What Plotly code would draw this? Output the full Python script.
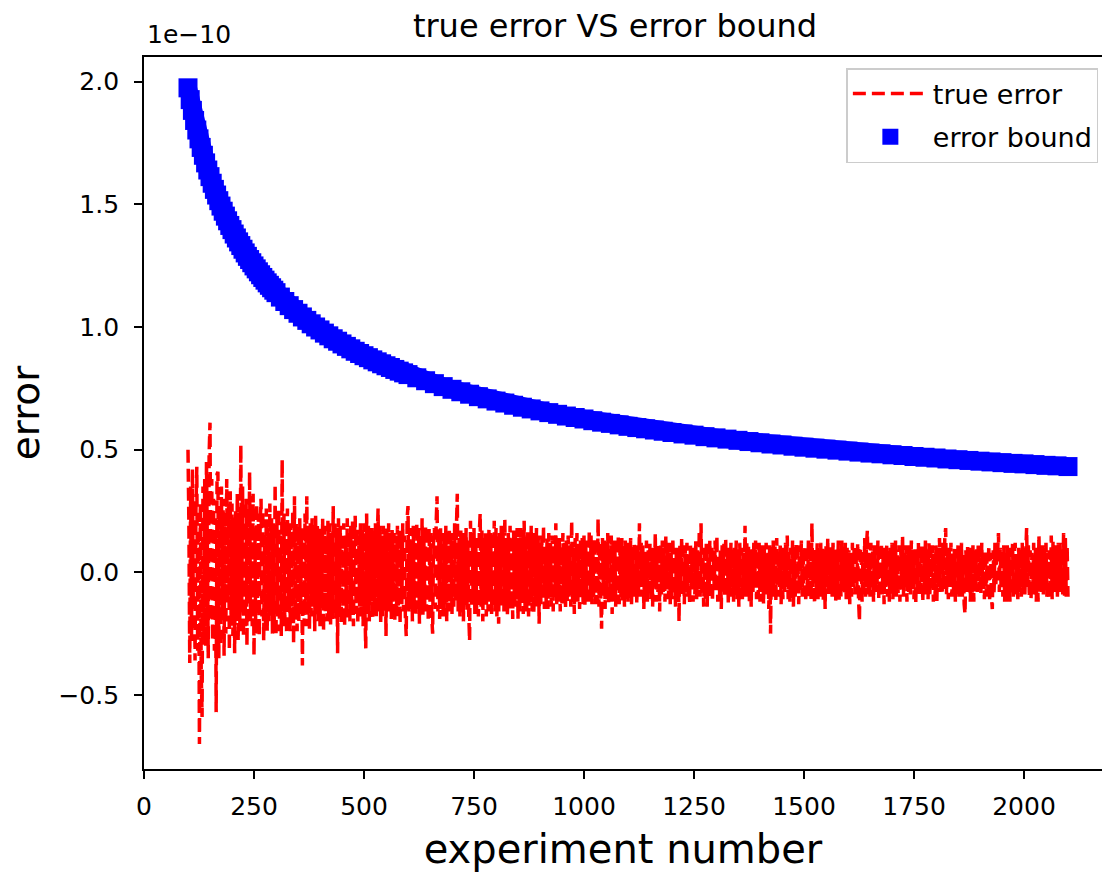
import plotly.graph_objects as go

# ---------------- data ----------------
# true error, read off the picture, in units of 1e-12 (one value every 2 experiments)
err_100_298 = [
    50, 20, -37, 35, -28, 42, -15, 30, -36, 25,
    43, -32, 15, -70, 28, -40, -59, 35, -25, 38,
    -30, 45, 10, -35, 48, 61, -20, 38, -28, 30,
    -32, 22, -57, 40, 41, -35, 25, -30, 35, -18,
    30, -34, 20, -25, 38, -12, 28, -32, 33, -20,
    28, -26, 18, -33, 25, -18, 32, -28, 22, -24,
    52, -15, 35, -26, 20, -22, 30, -30, 26, -12,
    41, -20, 28, -22, 32, -34, 18, -25, 28, -15,
    24, -26, 20, 30, -18, 25, -28, 15, -22, 26,
    -24, 18, -20, 28, -15, 22, -25, 20, -20, 36,
]
err_300_498 = [
    -26, 22, -18, 26, -24, 15, -26, 46, -20, 24,
    -22, 18, -25, 26, -14, 20, -24, 20, -18, 25,
    -29, 31, -18, 20, -24, 14, -20, 22, -15, 18,
    -38, 16, -22, 24, -16, 31, -22, 18, -24, 20,
    -18, 22, -14, 19, -24, 23, -16, 20, -20, 16,
    -22, 18, -12, 22, -24, 19, -16, 14, -20, 21,
    -18, 20, -22, 15, -19, 27, -14, 21, -19, 17,
    -33, 22, -16, 19, -21, 14, -18, 20, -22, 15,
    -19, 22, -14, 17, -20, 19, -15, 21, -22, 14,
    23, -17, 18, -21, 15, -14, 20, -18, 17, -22,
]
err_500_698 = [
    20, -15, -31, 24, -17, 19, -20, 15, -12, 18,
    -19, 17, -15, 20, -18, 13, 26, -16, 19, -21,
    15, -18, 19, -13, 17, -26, 18, -15, 20, -16,
    13, -19, 18, -12, 16, -20, 15, -18, 19, -14,
    18, -21, 16, -13, 20, -16, 15, -18, -26, 22,
    27, -16, 18, -15, 13, -20, 19, -12, 17, -18,
    20, -15, 18, -21, 13, -16, 22, -18, 15, -13,
    19, -16, 15, -20, 18, -12, 16, -18, -25, 15,
    18, -15, 20, 31, -16, 13, -19, 18, -15, 16,
    -18, 15, -13, 19, -20, 16, -12, 18, -16, 14,
]
err_700_898 = [
    -17, 16, -14, 20, -12, 18, 32, -16, 14, -18,
    17, -12, 16, -20, 14, -11, 18, -16, 13, -17,
    -28, 21, -14, 16, -12, 18, -17, 14, -16, 13,
    -18, 16, 24, -14, 17, -20, 12, -11, 16, -18,
    14, -16, 18, -12, 16, -17, 13, -14, 21, -16,
    18, -18, 12, -21, 16, -11, 19, -14, 17, -16,
    22, -12, 14, -18, 16, -14, 19, -16, 12, -19,
    17, -14, 16, -11, 18, -19, 14, -16, 18, -12,
    16, -17, 21, -14, 12, -16, 17, -18, 14, -11,
    19, -16, 13, -17, 16, -12, 18, -14, 15, -21,
]
err_900_1098 = [
    12, -13, 15, -9, 19, -15, 10, -12, 14, -15,
    16, -8, 12, -14, 15, -16, 11, -10, 20, -13,
    13, -12, 14, -16, 10, -13, 16, -9, 12, -15,
    13, -12, 15, -10, 11, -14, 21, -12, 10, -17,
    14, -8, 16, -12, 11, -15, 13, -10, 14, -13,
    15, -14, 11, -12, 13, -10, 17, -12, 15, -13,
    12, -10, 14, -13, 11, -12, 22, -14, 12, -9,
    -23, 14, -8, 13, -15, 12, -11, 16, -13, 10,
    -12, 15, -17, 12, -9, 13, -14, 11, -12, 15,
    -13, 12, -10, 14, -12, 9, -14, 13, -11, 12,
]
err_1100_1298 = [
    -12, 10, -9, 14, -13, 8, -10, 12, -7, 11,
    -13, 9, -8, 20, -10, 12, -6, 11, -15, 8,
    -10, 13, -12, 9, -7, 12, -11, 8, -14, 10,
    -5, 16, -12, 9, -8, 11, -16, 12, -9, 13,
    -8, 10, -12, 15, -7, 9, -11, 12, -13, 8,
    -11, 14, -9, 7, -14, 10, -12, 8, -20, 12,
    -6, 14, -10, 9, -13, 11, -8, 12, -10, 7,
    -13, 11, -7, 10, -12, 8, -9, 13, -11, 9,
    -7, 17, -10, 20, -9, 10, -14, 8, -11, 12,
    -14, 6, -10, 13, -8, 11, -12, 9, -7, 13,
]
err_1300_1498 = [
    -8, 15, -12, 7, -11, 10, -15, 11, -6, 12,
    -10, 14, -9, 8, -13, 11, -7, 12, -10, 9,
    -12, 10, -8, 13, -11, 7, -14, 12, -6, 10,
    -11, 8, -9, 19, -10, 12, -7, 11, -13, 9,
    -14, 10, -8, 12, -5, 13, -11, 9, -10, 12,
    -12, 9, -8, 11, -13, 10, -7, 12, -9, 8,
    -15, 11, -25, 9, -10, 13, -7, 11, -12, 14,
    -10, 8, -6, 12, -13, 9, -11, 10, -8, 12,
    -6, 15, -11, 8, -12, 10, -9, 13, -14, 7,
    -10, 12, -7, 9, -13, 11, -8, 13, -10, 9,
]
err_1500_1698 = [
    -9, 11, -12, 8, -10, 13, -7, 12, -11, 20,
    -6, 9, -13, 10, -8, 12, -11, 7, -10, 12,
    -8, 10, -12, 9, -15, 11, -6, 14, -10, 8,
    -5, 11, -10, 12, -8, 9, -12, 10, -7, 13,
    -12, 8, -10, 13, -7, 10, -9, 12, -11, 10,
    -11, 9, -13, 8, -10, 12, -6, 11, -9, 10,
    -8, 12, -11, -20, 9, 10, -12, 8, -8, 14,
    -10, 11, 17, -9, 8, -10, 12, -7, 9, -12,
    11, -8, 10, -5, 13, -11, 9, -7, 12, -9,
    8, -13, 10, -6, 11, -10, 9, -12, 10, -7,
]
err_1700_1898 = [
    12, -11, 9, -8, 13, -10, 7, -9, 11, -12,
    9, -7, 15, -10, 8, -6, 11, -12, 10, -8,
    11, -9, 13, -5, 9, -11, 10, -13, 8, -7,
    12, -10, 9, -8, 11, -12, 10, -7, 13, -9,
    8, -11, 12, -10, 9, -6, 11, -12, 8, -10,
    11, -12, 9, -6, 14, -8, 10, -9, 12, -7,
    14, 18, -9, 8, -11, 10, -6, 12, -10, 7,
    -8, 10, -12, 9, -7, 11, -10, 8, -9, 12,
    -10, 7, -13, -17, 9, -8, 11, -7, 10, -12,
    8, -9, 11, -12, 9, -5, 10, -8, 12, -7,
]
err_1900_2100 = [
    10, -9, 12, -6, 8, -11, 9, -10, 7, -8,
    11, -12, 8, -10, -15, 9, -9, 12, -6, 10,
    8, 16, -8, 10, -7, 9, -10, 11, -12, 8,
    -12, 11, -9, 8, -12, 10, -6, 12, -10, 8,
    12, -9, 7, -11, 10, -8, 9, -10, 12, -7,
    10, -9, 8, 18, -7, 11, -10, 9, -11, 8,
    -9, 12, -8, 10, -12, 9, -12, 15, -6, 10,
    -8, 11, -9, 10, -7, 12, -10, 8, -11, 9,
    -7, 15, -11, 13, -5, 9, -8, 11, -10, 12,
    -8, 12, -7, 10, -9, 16, -10, 14, -10, 11,
    -10,
]
exp_start = 100
exp_step = 2

# error bound, in units of 1e-10
bound_y = [
    1.975, 1.927, 1.883, 1.842, 1.803, 1.767, 1.732, 1.700, 1.669, 1.640,
    1.613, 1.586, 1.561, 1.538, 1.515, 1.493, 1.472, 1.452, 1.433, 1.414,
    1.397, 1.379, 1.363, 1.347, 1.332, 1.317, 1.302, 1.288, 1.275, 1.262,
    1.249, 1.237, 1.225, 1.213, 1.202, 1.191, 1.180, 1.170, 1.160, 1.150,
    1.140,
    1.122, 1.104, 1.087, 1.071, 1.056, 1.041, 1.027, 1.013, 1.000, 0.988,
    0.975, 0.964, 0.952, 0.942, 0.931, 0.921, 0.911, 0.901, 0.892, 0.883,
    0.875, 0.866, 0.858, 0.850, 0.842, 0.835, 0.827, 0.820, 0.813, 0.806,
    0.793, 0.781, 0.769, 0.757, 0.746, 0.736, 0.726, 0.716, 0.707, 0.698,
    0.690, 0.681, 0.673, 0.666, 0.658, 0.651, 0.644, 0.637, 0.631, 0.625,
    0.618, 0.612, 0.607, 0.601, 0.595, 0.590, 0.585, 0.580, 0.575, 0.570,
    0.564, 0.559, 0.553, 0.548, 0.543, 0.538, 0.533, 0.528, 0.523, 0.519,
    0.514, 0.510, 0.506, 0.502, 0.498, 0.494, 0.490, 0.486, 0.483, 0.479,
    0.476, 0.472, 0.469, 0.466, 0.462, 0.459, 0.456, 0.453, 0.450, 0.447,
    0.444, 0.442, 0.439, 0.436, 0.434, 0.431,
]
bound_x = (list(range(100, 301, 5)) + list(range(310, 601, 10))
           + list(range(620, 1201, 20)) + list(range(1225, 2101, 25)))

x_ticks = [0, 250, 500, 750, 1000, 1250, 1500, 1750, 2000]
y_ticks = [-0.5, 0.0, 0.5, 1.0, 1.5, 2.0]
y_tick_labels = ["\u22120.5", "0.0", "0.5", "1.0", "1.5", "2.0"]

err_raw = (err_100_298 + err_300_498 + err_500_698 + err_700_898 + err_900_1098
           + err_1100_1298 + err_1300_1498 + err_1500_1698 + err_1700_1898
           + err_1900_2100)
true_error = [v / 100 for v in err_raw]          # -> units of 1e-10
exp_x = [exp_start + exp_step * i for i in range(len(true_error))]
n_b = min(len(bound_x), len(bound_y))
bound_x, bound_y = bound_x[:n_b], bound_y[:n_b]

FONT = "DejaVu Sans"

fig = go.Figure()
fig.add_trace(go.Scatter(
    x=exp_x, y=true_error, mode="lines", name="true error",
    line=dict(color="#ff0000", width=3.5, dash="13px,6px", simplify=False),
    legendgroup="a",
))
fig.add_trace(go.Scatter(
    x=bound_x, y=bound_y, mode="lines", showlegend=False, hoverinfo="skip",
    line=dict(color="#0000ff", width=18), legendgroup="b",
))
fig.add_trace(go.Scatter(
    x=bound_x, y=bound_y, mode="markers", name="error bound",
    marker=dict(color="#0000ff", symbol="square", size=19, line=dict(width=0)),
    legendgroup="b",
))

fig.update_layout(
    width=1102, height=875,
    margin=dict(l=144, r=0, t=57, b=106, autoexpand=False),
    paper_bgcolor="white", plot_bgcolor="white",
    font=dict(family=FONT, color="black", size=25),
    title=dict(text="true error VS error bound", x=0.4917, xref="paper",
               y=1 - 26 / 875, yref="container", xanchor="center", yanchor="middle",
               font=dict(size=32, family=FONT, color="black")),
    showlegend=True,
    legend=dict(x=0.9962, y=0.9845, xanchor="right", yanchor="top",
                bgcolor="rgba(255,255,255,0.8)", bordercolor="#cccccc", borderwidth=1.5,
                font=dict(size=27, family=FONT, color="black"),
                traceorder="grouped", tracegroupgap=5, itemwidth=75),
    xaxis=dict(range=[0, 2177.3], tickvals=x_ticks, ticks="outside", ticklen=8,
               tickwidth=1.8, tickcolor="black", showline=True, linecolor="black",
               linewidth=1.8, mirror=True, showgrid=False, zeroline=False,
               ticklabelstandoff=6,
               tickfont=dict(size=25, family=FONT, color="black"), automargin=False,
               title=dict(text="experiment number", standoff=15,
                          font=dict(size=40, family=FONT, color="black"))),
    yaxis=dict(range=[-0.8019, 2.1007], tickvals=y_ticks, ticktext=y_tick_labels,
               ticks="outside", ticklen=8, tickwidth=1.8, tickcolor="black",
               showline=True, linecolor="black", linewidth=1.8, mirror=False,
               showgrid=False, zeroline=False, automargin=False,
               ticklabelstandoff=10,
               tickfont=dict(size=25, family=FONT, color="black"),
               title=dict(text="error", standoff=7,
                          font=dict(size=39, family=FONT, color="black"))),
    annotations=[dict(text="1e\u221210", xref="paper", yref="paper", x=0.001,
                      y=1 + (57 - 35) / 712, xanchor="left", yanchor="middle",
                      showarrow=False, font=dict(size=25, family=FONT, color="black"))],
)

fig.write_html("out.html", config={"displayModeBar": False},
               post_script="document.body.style.margin='0';")
